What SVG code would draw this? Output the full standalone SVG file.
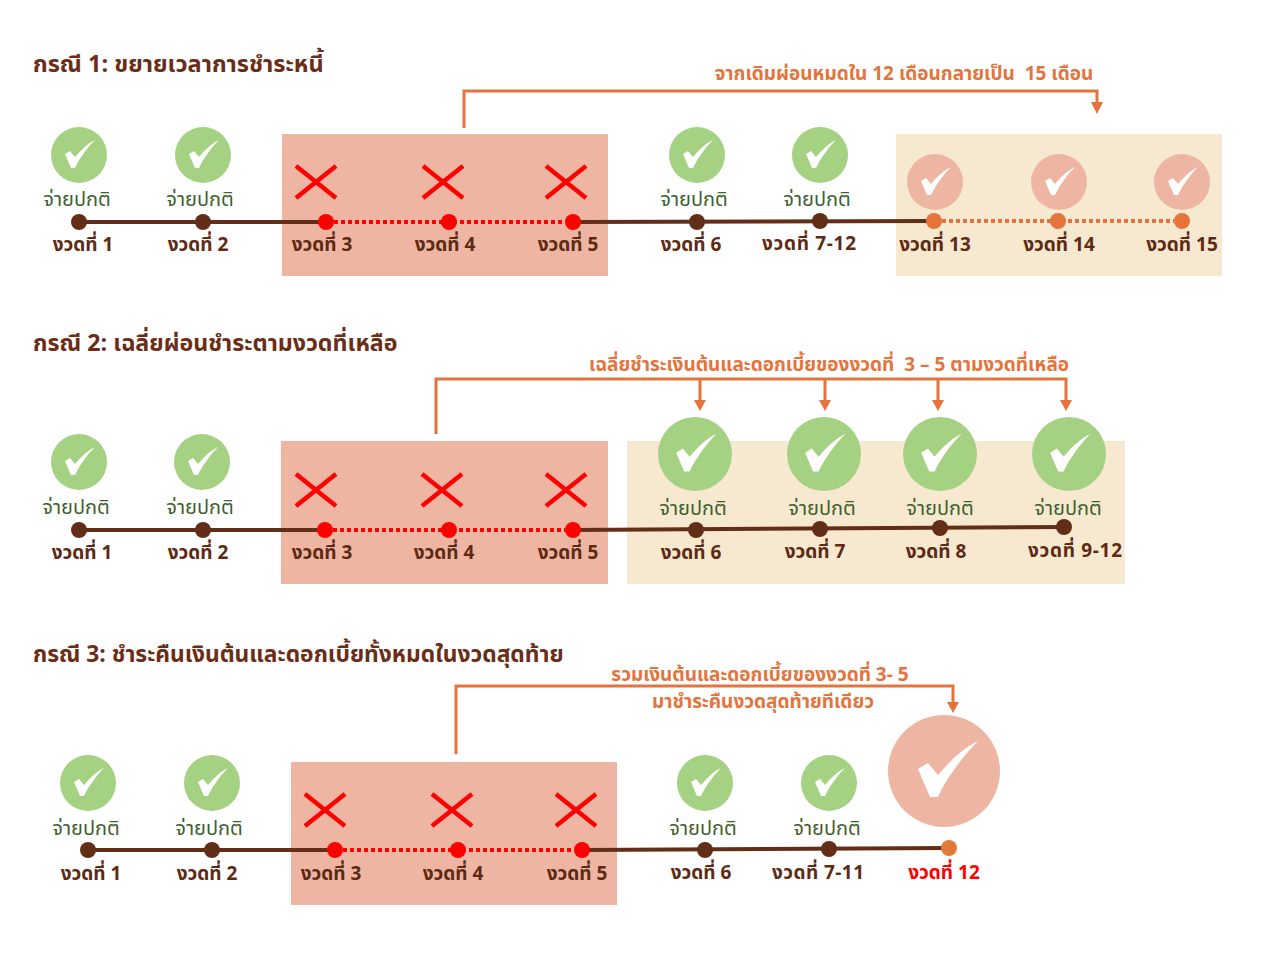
<svg xmlns="http://www.w3.org/2000/svg" xmlns:xlink="http://www.w3.org/1999/xlink" width="1280" height="960" viewBox="0 0 1280 960">
<style>
text{font-family:"Noto Sans Thai","Noto Sans","Open Sans","DejaVu Sans",sans-serif;text-anchor:middle}
.title{font-size:23.5px;font-weight:700;fill:#6b2d16;text-anchor:start}
.pay{font-size:20px;fill:#3f5f2f}
.lab{font-size:19px;font-weight:700;fill:#5e2a14}
.note{font-size:19px;font-weight:700;fill:#e4743c;white-space:pre}
.solid{stroke:#632e17;stroke-width:4;fill:none}
.rdot{stroke:#f00;stroke-width:4;stroke-dasharray:4 3;fill:none}
.odot{stroke:#e4743c;stroke-width:4;stroke-dasharray:4 3;fill:none}
.arrow{stroke:#e4743c;stroke-width:3;fill:none}
.head{fill:#e4743c}
.x{stroke:#f00;stroke-width:4.5;fill:none}
.ok{fill:#a5d182}.late{fill:#eeb6a2}
.brown{fill:#632e17}.red{fill:#f00}.orange{fill:#e4743c}
</style>
<defs>
<g id="check"><path fill="#fff" d="M-14,-1 L-9,-4 L-4,2 C3,-6 8,-11 16,-15 C10,-9 1,2 -4,13 L-8,13 Z"/></g>
<g id="cross"><path class="x" d="M-20,-16 L20,16 M20,-16 L-20,16"/></g>
</defs>
<rect x="282" y="134" width="326" height="142" fill="#eeb6a2"/>
<rect x="896" y="134" width="326" height="142" fill="#f7e9d0"/>
<rect x="281" y="441" width="327" height="143" fill="#eeb6a2"/>
<rect x="627" y="441" width="498" height="143" fill="#f7e9d0"/>
<rect x="291" y="762" width="326" height="143" fill="#eeb6a2"/>
<text class="title" x="33" y="72">กรณี 1: ขยายเวลาการชำระหนี้</text>
<text class="title" x="33" y="351" style="font-size:23.2px">กรณี 2: เฉลี่ยผ่อนชำระตามงวดที่เหลือ</text>
<text class="title" x="33" y="662" style="font-size:22.8px">กรณี 3: ชำระคืนเงินต้นและดอกเบี้ยทั้งหมดในงวดสุดท้าย</text>
<text class="note" x="904" y="80">จากเดิมผ่อนหมดใน 12 เดือนกลายเป็น  15 เดือน</text>
<text class="note" x="829" y="371">เฉลี่ยชำระเงินต้นและดอกเบี้ยของงวดที่  3 – 5 ตามงวดที่เหลือ</text>
<text class="note" x="760" y="681">รวมเงินต้นและดอกเบี้ยของงวดที่ 3- 5</text>
<text class="note" x="763" y="708">มาชำระคืนงวดสุดท้ายทีเดียว</text>
<g id="connectors">
<path class="solid" d="M79,222 H326 M573,222 L934,221"/>
<path class="rdot" d="M334,222 H565"/>
<path class="odot" d="M942,221 H1174"/>
<path class="solid" d="M79,530 H325 M573,530 L1064,527"/>
<path class="rdot" d="M333,530 H565"/>
<path class="solid" d="M88,850 H335 M582,850 L949,848"/>
<path class="rdot" d="M343,850 H574"/>
<path class="arrow" d="M464,128 V91 H1097 V104"/>
<path class="head" d="M1091,102 H1103 L1097,114 Z"/>
<path class="arrow" d="M436,434 V379 H1066 V402 M700,379 V402 M825,379 V402 M938,379 V402"/>
<path class="head" d="M694,400 H706 L700,411 Z M819,400 H831 L825,411 Z M932,400 H944 L938,411 Z M1060,400 H1072 L1066,411 Z"/>
<path class="arrow" d="M456,754 V686 H953 V704"/>
<path class="head" d="M947,702 H959 L953,713 Z"/>
</g>
<g id="c1-p1"><circle class="ok" cx="79" cy="155" r="28"/><use href="#check" x="79" y="155"/><text class="pay" x="77" y="206">จ่ายปกติ</text><circle class="brown" cx="79" cy="222" r="8"/><text class="lab" x="83" y="251">งวดที่ 1</text></g>
<g id="c1-p2"><circle class="ok" cx="203" cy="155" r="28"/><use href="#check" x="203" y="155"/><text class="pay" x="200" y="206">จ่ายปกติ</text><circle class="brown" cx="203" cy="222" r="8"/><text class="lab" x="198" y="251">งวดที่ 2</text></g>
<g id="c1-p3"><use href="#cross" x="316" y="182"/><circle class="red" cx="326" cy="222" r="8"/><text class="lab" x="322" y="251">งวดที่ 3</text></g>
<g id="c1-p4"><use href="#cross" x="443" y="182"/><circle class="red" cx="449" cy="222" r="8"/><text class="lab" x="445" y="251">งวดที่ 4</text></g>
<g id="c1-p5"><use href="#cross" x="566" y="182"/><circle class="red" cx="573" cy="222" r="8"/><text class="lab" x="568" y="251">งวดที่ 5</text></g>
<g id="c1-p6"><circle class="ok" cx="697" cy="155" r="28"/><use href="#check" x="697" y="155"/><text class="pay" x="694" y="206">จ่ายปกติ</text><circle class="brown" cx="697" cy="222" r="8"/><text class="lab" x="691" y="251">งวดที่ 6</text></g>
<g id="c1-p7"><circle class="ok" cx="820" cy="155" r="28"/><use href="#check" x="820" y="155"/><text class="pay" x="817" y="206">จ่ายปกติ</text><circle class="brown" cx="820" cy="221" r="8"/><text class="lab" x="809" y="250" textLength="94">งวดที่ 7-12</text></g>
<g id="c1-p13"><circle class="late" cx="935" cy="182" r="28"/><use href="#check" x="935" y="182"/><circle class="orange" cx="934" cy="221" r="8"/><text class="lab" x="935" y="251">งวดที่ 13</text></g>
<g id="c1-p14"><circle class="late" cx="1059" cy="182" r="28"/><use href="#check" x="1059" y="182"/><circle class="orange" cx="1058" cy="221" r="8"/><text class="lab" x="1059" y="251">งวดที่ 14</text></g>
<g id="c1-p15"><circle class="late" cx="1182" cy="182" r="28"/><use href="#check" x="1182" y="182"/><circle class="orange" cx="1182" cy="221" r="8"/><text class="lab" x="1182" y="251">งวดที่ 15</text></g>
<g id="c2-p1"><circle class="ok" cx="79" cy="462" r="28"/><use href="#check" x="79" y="462"/><text class="pay" x="76" y="514">จ่ายปกติ</text><circle class="brown" cx="79" cy="530" r="8"/><text class="lab" x="82" y="559">งวดที่ 1</text></g>
<g id="c2-p2"><circle class="ok" cx="202" cy="462" r="28"/><use href="#check" x="202" y="462"/><text class="pay" x="200" y="514">จ่ายปกติ</text><circle class="brown" cx="203" cy="530" r="8"/><text class="lab" x="198" y="559">งวดที่ 2</text></g>
<g id="c2-p3"><use href="#cross" x="316" y="490"/><circle class="red" cx="325" cy="530" r="8"/><text class="lab" x="322" y="559">งวดที่ 3</text></g>
<g id="c2-p4"><use href="#cross" x="442" y="490"/><circle class="red" cx="449" cy="530" r="8"/><text class="lab" x="444" y="559">งวดที่ 4</text></g>
<g id="c2-p5"><use href="#cross" x="566" y="490"/><circle class="red" cx="573" cy="530" r="8"/><text class="lab" x="568" y="559">งวดที่ 5</text></g>
<g id="c2-p6"><circle class="ok" cx="695" cy="454" r="37"/><use href="#check" transform="translate(695 454) scale(1.35)"/><text class="pay" x="693" y="515">จ่ายปกติ</text><circle class="brown" cx="696" cy="530" r="8"/><text class="lab" x="691" y="559">งวดที่ 6</text></g>
<g id="c2-p7"><circle class="ok" cx="824" cy="454" r="37"/><use href="#check" transform="translate(824 454) scale(1.35)"/><text class="pay" x="822" y="515">จ่ายปกติ</text><circle class="brown" cx="820" cy="529" r="8"/><text class="lab" x="815" y="558">งวดที่ 7</text></g>
<g id="c2-p8"><circle class="ok" cx="940" cy="454" r="37"/><use href="#check" transform="translate(940 454) scale(1.35)"/><text class="pay" x="940" y="515">จ่ายปกติ</text><circle class="brown" cx="940" cy="528" r="8"/><text class="lab" x="936" y="558">งวดที่ 8</text></g>
<g id="c2-p9"><circle class="ok" cx="1069" cy="454" r="37"/><use href="#check" transform="translate(1069 454) scale(1.35)"/><text class="pay" x="1068" y="515">จ่ายปกติ</text><circle class="brown" cx="1064" cy="527" r="8"/><text class="lab" x="1075" y="557" textLength="94">งวดที่ 9-12</text></g>
<g id="c3-p1"><circle class="ok" cx="88" cy="783" r="28"/><use href="#check" x="88" y="783"/><text class="pay" x="86" y="835">จ่ายปกติ</text><circle class="brown" cx="88" cy="850" r="8"/><text class="lab" x="91" y="880">งวดที่ 1</text></g>
<g id="c3-p2"><circle class="ok" cx="212" cy="783" r="28"/><use href="#check" x="212" y="783"/><text class="pay" x="209" y="835">จ่ายปกติ</text><circle class="brown" cx="212" cy="850" r="8"/><text class="lab" x="207" y="880">งวดที่ 2</text></g>
<g id="c3-p3"><use href="#cross" x="325" y="810"/><circle class="red" cx="335" cy="850" r="8"/><text class="lab" x="331" y="880">งวดที่ 3</text></g>
<g id="c3-p4"><use href="#cross" x="452" y="810"/><circle class="red" cx="458" cy="850" r="8"/><text class="lab" x="453" y="880">งวดที่ 4</text></g>
<g id="c3-p5"><use href="#cross" x="576" y="810"/><circle class="red" cx="582" cy="850" r="8"/><text class="lab" x="577" y="880">งวดที่ 5</text></g>
<g id="c3-p6"><circle class="ok" cx="705" cy="783" r="28"/><use href="#check" x="705" y="783"/><text class="pay" x="703" y="835">จ่ายปกติ</text><circle class="brown" cx="705" cy="850" r="8"/><text class="lab" x="701" y="879">งวดที่ 6</text></g>
<g id="c3-p7"><circle class="ok" cx="829" cy="783" r="28"/><use href="#check" x="829" y="783"/><text class="pay" x="827" y="835">จ่ายปกติ</text><circle class="brown" cx="829" cy="849" r="8"/><text class="lab" x="818" y="879" textLength="92">งวดที่ 7-11</text></g>
<g id="c3-p12"><circle class="late" cx="944" cy="771" r="56"/><use href="#check" transform="translate(946 771) scale(2)"/><circle fill="#e07a38" cx="949" cy="848" r="8"/><text class="lab" x="944" y="879" style="fill:#f00">งวดที่ 12</text></g>
</svg>
